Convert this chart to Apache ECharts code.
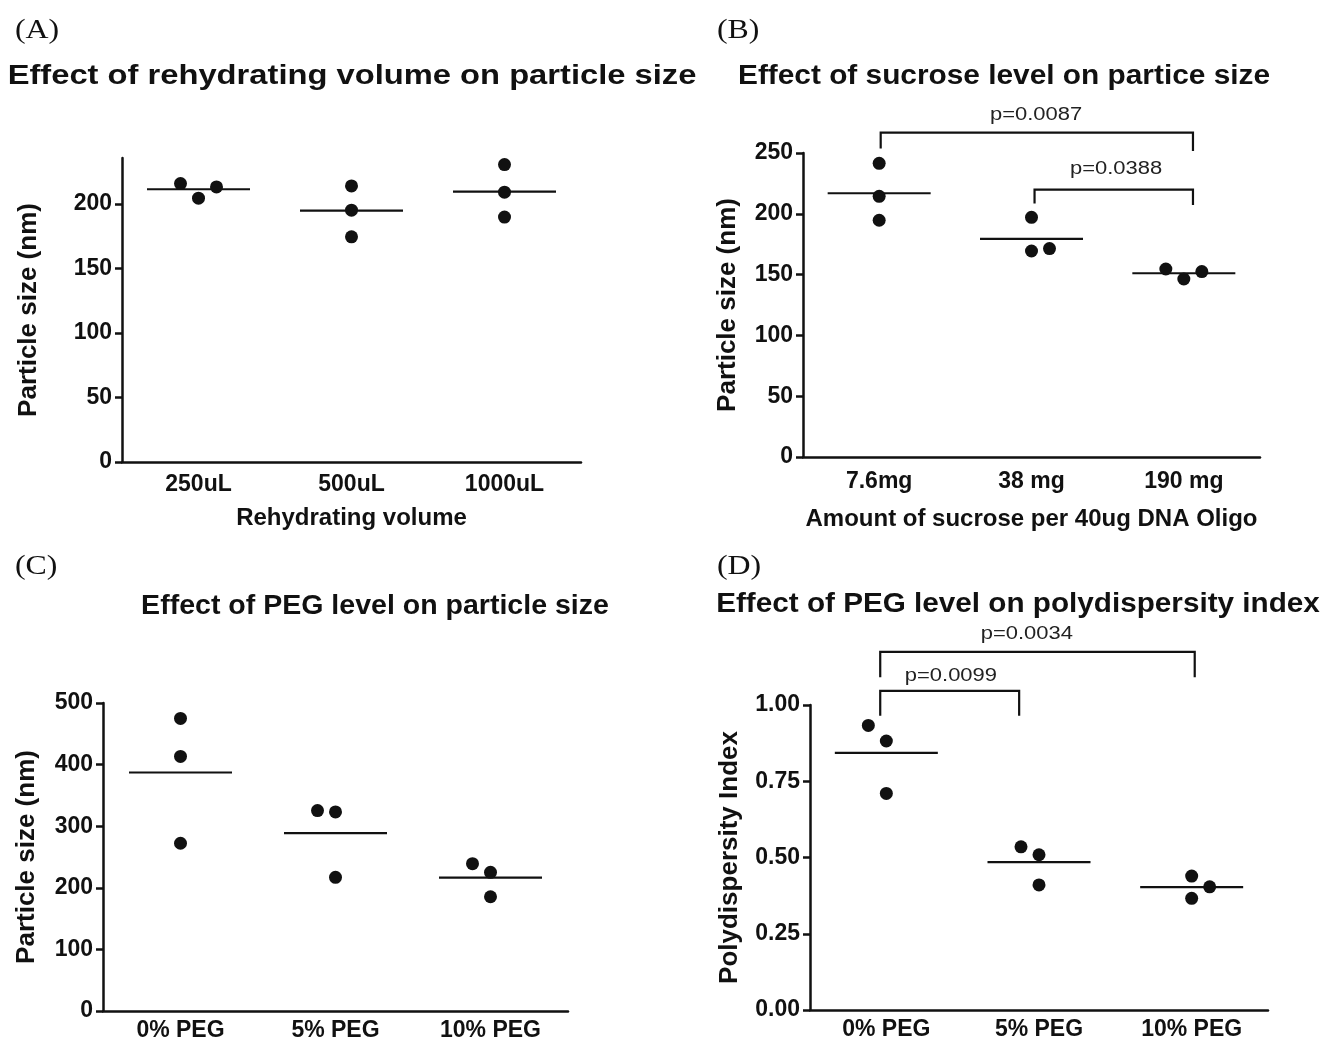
<!DOCTYPE html>
<html>
<head>
<meta charset="utf-8">
<script src="https://cdn.jsdelivr.net/npm/echarts@6/dist/echarts.min.js"></script>
<style>
html,body{margin:0;padding:0;background:#fff;}
#chart{width:1324px;height:1045px;}
</style>
</head>
<body>
<div id="chart"></div>
<script>
// ---------- Data ----------
const catsA = ['250uL', '500uL', '1000uL'];
const valsA = [[215.7, 204.4, 213.1], [213.9, 195.1, 174.4], [230.4, 209.0, 189.7]];
const meanA = [211.3, 194.8, 209.5];

const catsB = ['7.6mg', '38 mg', '190 mg'];
const valsB = [[241.5, 214.4, 194.7], [197.1, 169.4, 171.4], [154.6, 146.4, 152.5]];
const meanB = [216.9, 179.3, 151.1];

const catsC = ['0% PEG', '5% PEG', '10% PEG'];
const valsC = [[475, 413.2, 272.3], [325.4, 323.2, 217.0], [239.2, 225.1, 185.5]];
const meanC = [387.2, 288.6, 216.4];

const catsD = ['0% PEG', '5% PEG', '10% PEG'];
const valsD = [[0.933, 0.882, 0.710], [0.535, 0.509, 0.410], [0.439, 0.404, 0.366]];
const meanD = [0.843, 0.485, 0.403];

const ticksA = [0, 50, 100, 150, 200];
const ticksB = [0, 50, 100, 150, 200, 250];
const ticksC = [0, 100, 200, 300, 400, 500];
const ticksD = [0, 0.25, 0.5, 0.75, 1.0];

// significance annotations (category units / value units)
const bracketsB = [
  {x0: 0.01, x1: 2.06, top: 266.8, legL: 253.6, legR: 251.6, label: 'p=0.0087', lx: 1.03, ly: 281},
  {x0: 1.02, x1: 2.06, top: 219.9, legL: 208.4, legR: 207.2, label: 'p=0.0388', lx: 1.555, ly: 237.2}
];
const bracketsD = [
  {x0: -0.04, x1: 2.02, top: 1.174, legL: 1.091, legR: 1.091, label: 'p=0.0034', lx: 0.92, ly: 1.232},
  {x0: -0.04, x1: 0.87, top: 1.046, legL: 0.965, legR: 0.965, label: 'p=0.0099', lx: 0.423, ly: 1.095}
];

// point spread (pixels) within a group, as in the dot plot
const spreadA = [[-18, 0, 18], [0, 0, 0], [0, 0, 0]];
const spreadB = [[0, 0, 0], [0, 0, 18], [-18, 0, 18]];
const spreadC = [[0, 0, 0], [-18, 0, 0], [-18, 0, 0]];
const spreadD = [[-18, 0, 0], [-18, 0, 0], [0, 18, 0]];

// ---------- Styles ----------
const INK = '#111111';
const SANS = '"Liberation Sans", Arial, Helvetica, sans-serif';
const SERIF = '"Liberation Serif", "Times New Roman", serif';

const panels = [
  {cats: catsA, vals: valsA, mean: meanA, spread: spreadA, ticks: ticksA, max: 235.5,
   grid: {left: 122, top: 158, width: 459, height: 304},
   yName: 'Particle size (nm)', yGap: 80, xName: 'Rehydrating volume', xGap: 44, lblSize: 23, xMargin: 11, fmt: v => String(v)},
  {cats: catsB, vals: valsB, mean: meanB, spread: spreadB, ticks: ticksB, max: 250,
   grid: {left: 803, top: 153, width: 457, height: 304},
   yName: 'Particle size (nm)', yGap: 62, xName: 'Amount of sucrose per 40ug DNA Oligo', xGap: 50, lblSize: 23, xMargin: 13, fmt: v => String(v)},
  {cats: catsC, vals: valsC, mean: meanC, spread: spreadC, ticks: ticksC, max: 500,
   grid: {left: 103, top: 703, width: 465, height: 308},
   yName: 'Particle size (nm)', yGap: 63, xName: '', xGap: 40, lblSize: 23, xMargin: 8, fmt: v => String(v)},
  {cats: catsD, vals: valsD, mean: meanD, spread: spreadD, ticks: ticksD, max: 1.0,
   grid: {left: 810, top: 705, width: 458, height: 305},
   yName: 'Polydispersity Index', yGap: 67, xName: '', xGap: 40, lblSize: 23, xMargin: 8, fmt: v => v.toFixed(2)}
];

function bracketRenderer(list) {
  return function (params, api) {
    const b = list[params.dataIndex];
    const band = api.size([1, 0])[0];
    const c0 = api.coord([0, 0])[0];
    const X = f => c0 + f * band;
    const Y = v => api.coord([0, v])[1];
    const xa = X(b.x0), xb = X(b.x1), yt = Y(b.top);
    return {
      type: 'group',
      children: [
        {type: 'polyline',
         shape: {points: [[xa, Y(b.legL)], [xa, yt], [xb, yt], [xb, Y(b.legR)]]},
         style: {stroke: INK, lineWidth: 2.2, fill: null}},
        {type: 'text', x: X(b.lx), y: Y(b.ly), scaleX: 1.22,
         style: {text: b.label, textAlign: 'center', textVerticalAlign: 'middle',
                 font: '18px ' + SANS, fill: '#222'}}
      ]
    };
  };
}

const grids = [], xAxes = [], yAxes = [], series = [];
panels.forEach((p, k) => {
  grids.push(Object.assign({containLabel: false}, p.grid));
  xAxes.push({
    type: 'category', gridIndex: k, data: p.cats, boundaryGap: true,
    name: p.xName, nameLocation: 'middle', nameGap: p.xGap,
    nameTextStyle: {fontFamily: SANS, fontWeight: 'bold', fontSize: 24, color: INK},
    axisLine: {lineStyle: {color: INK, width: 2.5}},
    axisTick: {alignWithLabel: true, length: 10, lineStyle: {color: INK, width: 2.5}},
    axisLabel: {fontFamily: SANS, fontWeight: 'bold', fontSize: p.lblSize, color: INK, margin: p.xMargin, interval: 0},
    splitLine: {show: false}
  });
  yAxes.push({
    type: 'value', gridIndex: k, min: 0, max: p.max,
    name: p.yName, nameLocation: 'middle', nameGap: p.yGap, nameRotate: 90,
    nameTextStyle: {fontFamily: SANS, fontWeight: 'bold', fontSize: 26, color: INK},
    axisLine: {show: true, lineStyle: {color: INK, width: 2.5}},
    axisTick: {show: true, length: 7, customValues: p.ticks, lineStyle: {color: INK, width: 2.5}},
    axisLabel: {fontFamily: SANS, fontWeight: 'bold', fontSize: p.lblSize, color: INK, margin: 10,
                customValues: p.ticks, formatter: p.fmt},
    splitLine: {show: false}
  });
  const pts = [];
  p.vals.forEach((arr, i) => arr.forEach((v, j) => {
    pts.push({value: [i, v], symbolOffset: [p.spread[i][j], 0]});
  }));
  series.push({
    type: 'scatter', xAxisIndex: k, yAxisIndex: k, data: pts,
    symbol: 'circle', symbolSize: 13, itemStyle: {color: INK, opacity: 1}, z: 3, silent: true
  });
  series.push({
    type: 'scatter', xAxisIndex: k, yAxisIndex: k,
    data: p.mean.map((m, i) => [i, m]),
    symbol: 'rect', symbolSize: [103, 2.2], itemStyle: {color: INK, opacity: 1}, z: 2, silent: true
  });
});

series.push({type: 'custom', xAxisIndex: 1, yAxisIndex: 1, clip: false, silent: true,
  data: bracketsB.map(() => [0, 0]), renderItem: bracketRenderer(bracketsB), z: 4});
series.push({type: 'custom', xAxisIndex: 3, yAxisIndex: 3, clip: false, silent: true,
  data: bracketsD.map(() => [0, 0]), renderItem: bracketRenderer(bracketsD), z: 4});

function titleText(text, x, y, sx) {
  return {type: 'text', x: x, y: y, scaleX: sx, silent: true,
    style: {text: text, textAlign: 'center', textVerticalAlign: 'middle',
            font: 'bold 28px ' + SANS, fill: INK}};
}
function panelLabel(text, x, y) {
  return {type: 'text', x: x, y: y, scaleX: 1.18, silent: true,
    style: {text: text, textAlign: 'left', textVerticalAlign: 'middle',
            font: '27px ' + SERIF, fill: INK}};
}

const option = {
  animation: false,
  backgroundColor: '#ffffff',
  grid: grids,
  xAxis: xAxes,
  yAxis: yAxes,
  series: series,
  graphic: [
    panelLabel('(A)', 15, 31),
    panelLabel('(B)', 717, 31),
    panelLabel('(C)', 15, 567),
    panelLabel('(D)', 717, 567),
    titleText('Effect of rehydrating volume on particle size', 352, 76, 1.168),
    titleText('Effect of sucrose level on partice size', 1004, 76, 1.065),
    titleText('Effect of PEG level on particle size', 375, 606, 1.019),
    titleText('Effect of PEG level on polydispersity index', 1018, 604, 1.06)
  ]
};

const chart = echarts.init(document.getElementById('chart'), null, {renderer: 'canvas'});
chart.setOption(option);
</script>
</body>
</html>
